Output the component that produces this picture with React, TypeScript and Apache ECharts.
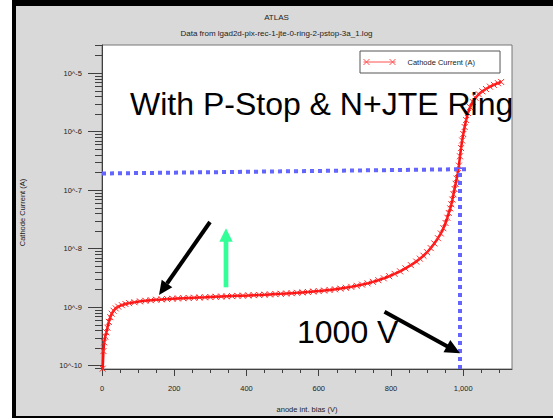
import React, { useEffect, useRef } from "react";
import * as echarts from "echarts";

const FONT = '"Liberation Sans", Arial, sans-serif';

// anode bias (V)
const biasV = [
  0, 2, 4, 6, 9, 12, 15, 19, 23, 27, 32, 38, 45, 55, 65, 75, 90, 105, 120, 135,
  150, 165, 180, 195, 210, 225, 240, 255, 270, 285, 300, 315, 330, 345, 360, 375,
  390, 405, 420, 435, 450, 465, 480, 495, 510, 525, 540, 555, 570, 585, 600, 615,
  630, 645, 660, 675, 690, 705, 720, 735, 750, 765, 780, 795, 810, 825, 840, 855,
  870, 880, 890, 900, 910, 920, 930, 938, 945, 951, 956, 960, 964, 967, 970, 973,
  976, 979, 982, 985, 988, 991, 994, 997, 1000, 1004, 1008, 1013, 1019, 1026,
  1034, 1043, 1053, 1063, 1074, 1085, 1096, 1105,
];

// cathode current (A)
const cathodeCurrentA = [
  2.51e-11, 8.91e-11, 1.78e-10, 2.51e-10, 3.16e-10, 3.72e-10, 4.47e-10, 5.62e-10,
  6.76e-10, 7.76e-10, 8.71e-10, 9.55e-10, 1.023e-9, 1.084e-9, 1.135e-9, 1.175e-9,
  1.216e-9, 1.259e-9, 1.288e-9, 1.318e-9, 1.343e-9, 1.361e-9, 1.38e-9, 1.396e-9,
  1.413e-9, 1.426e-9, 1.439e-9, 1.452e-9, 1.466e-9, 1.479e-9, 1.493e-9, 1.507e-9,
  1.521e-9, 1.535e-9, 1.549e-9, 1.563e-9, 1.578e-9, 1.592e-9, 1.607e-9, 1.622e-9,
  1.637e-9, 1.656e-9, 1.675e-9, 1.694e-9, 1.714e-9, 1.738e-9, 1.762e-9, 1.791e-9,
  1.82e-9, 1.854e-9, 1.888e-9, 1.928e-9, 1.972e-9, 2.023e-9, 2.08e-9, 2.148e-9,
  2.228e-9, 2.323e-9, 2.432e-9, 2.559e-9, 2.716e-9, 2.897e-9, 3.119e-9, 3.388e-9,
  3.715e-9, 4.111e-9, 4.613e-9, 5.248e-9, 6.026e-9, 6.761e-9, 7.586e-9, 8.71e-9,
  1.023e-8, 1.23e-8, 1.514e-8, 1.82e-8, 2.239e-8, 2.754e-8, 3.388e-8, 4.074e-8,
  4.898e-8, 5.754e-8, 6.918e-8, 8.511e-8, 1.047e-7, 1.288e-7, 1.585e-7, 1.95e-7,
  2.63e-7, 3.802e-7, 5.248e-7, 7.079e-7, 9.12e-7, 1.202e-6, 1.585e-6, 2.089e-6,
  2.63e-6, 3.236e-6, 3.802e-6, 4.365e-6, 4.898e-6, 5.37e-6, 5.888e-6, 6.31e-6,
  6.761e-6, 7.079e-6,
];

const xTickLabels = [0, 200, 400, 600, 800, 1000];
const xMinorTicks = [
  0, 50, 100, 150, 200, 250, 300, 350, 400, 450, 500, 550, 600, 650, 700, 750, 800,
  850, 900, 950, 1000, 1050, 1100,
];
const yDecades = [-10, -9, -8, -7, -6, -5];
const xRange = [0, 1135];
const yRangeLog = [-10.056, -4.518];

// blue guide lines: breakdown at ~990 V
const guideV = 989;
const guideHStartI = 1.93e-7;
const guideHEndI = 2.29e-7;
const guideHEndV = 1013;
const guideVTopI = 2.44e-7;

const seriesName = "Cathode Current (A)";

export default function App() {
  const ref = useRef<HTMLDivElement>(null);

  useEffect(() => {
    document.body.style.margin = "0";
    if (!ref.current) return;
    const chart = echarts.init(ref.current, undefined, { renderer: "svg" });

    const yMinor: number[] = [];
    for (let n = -11; n <= -5; n++) {
      for (let k = 2; k <= 9; k++) {
        const v = n + Math.log10(k);
        if (v >= yRangeLog[0] && v <= yRangeLog[1]) yMinor.push(v);
      }
    }

    const data = biasV.map((v, i) => [v, Math.log10(cathodeCurrentA[i])]);
    const axisColor = "#404040";

    const option: any = {
      animation: false,
      backgroundColor: "transparent",
      title: {
        text: "ATLAS",
        subtext: "Data from lgad2d-pix-rec-1-jte-0-ring-2-pstop-3a_1.log",
        left: "center",
        top: 8,
        padding: [5, 10, 5, 5],
        itemGap: 8,
        textStyle: { fontSize: 8, fontWeight: "normal", color: "#222", fontFamily: FONT },
        subtextStyle: { fontSize: 8, color: "#222", fontFamily: FONT },
      },
      legend: {
        data: [seriesName],
        left: 360,
        top: 51,
        padding: [7, 25, 7, 3],
        backgroundColor: "#fff",
        borderColor: "#555",
        borderWidth: 1,
        borderRadius: 0,
        itemWidth: 32,
        itemHeight: 7,
        icon: "path://M0,3.5L32,3.5M0,0.5L6,6.5M0,6.5L6,0.5M26,0.5L32,6.5M26,6.5L32,0.5",
        itemStyle: { color: "rgba(0,0,0,0)", borderColor: "#ff5050", borderWidth: 1 },
        textStyle: { fontSize: 7.5, color: "#222", fontFamily: FONT, padding: [0, 0, 0, 7] },
      },
      grid: {
        left: 102,
        top: 45,
        right: 41,
        bottom: 48,
        show: true,
        backgroundColor: "#ffffff",
        borderColor: "#777",
        borderWidth: 1,
      },
      xAxis: [
        {
          type: "value",
          min: xRange[0],
          max: xRange[1],
          position: "bottom",
          axisLine: { show: true, lineStyle: { color: axisColor } },
          axisTick: { show: true, length: 7, customValues: xTickLabels, lineStyle: { color: axisColor } },
          axisLabel: { customValues: xTickLabels, margin: 15, fontSize: 7.5, color: "#222", fontFamily: FONT },
          splitLine: { show: false },
          name: "anode int. bias (V)",
          nameLocation: "middle",
          nameGap: 36,
          nameTextStyle: { fontSize: 7.5, color: "#222", fontFamily: FONT },
        },
        {
          type: "value",
          min: xRange[0],
          max: xRange[1],
          position: "bottom",
          axisLine: { show: false },
          axisTick: { show: true, length: 4, customValues: xMinorTicks, lineStyle: { color: axisColor } },
          axisLabel: { show: false },
          splitLine: { show: false },
        },
      ],
      yAxis: [
        {
          type: "value",
          min: yRangeLog[0],
          max: yRangeLog[1],
          position: "left",
          axisLine: { show: true, lineStyle: { color: axisColor } },
          axisTick: { show: true, length: 14, customValues: yDecades, lineStyle: { color: axisColor } },
          axisLabel: {
            customValues: yDecades,
            margin: 20,
            fontSize: 7.5,
            color: "#222",
            fontFamily: FONT,
            formatter: (v: number) => "10^" + Math.round(v),
          },
          splitLine: { show: false },
          name: "Cathode Current (A)",
          nameLocation: "middle",
          nameRotate: 90,
          nameGap: 76,
          nameTextStyle: { fontSize: 7.5, color: "#222", fontFamily: FONT, padding: [0, 11, 0, 0] },
        },
        {
          type: "value",
          min: yRangeLog[0],
          max: yRangeLog[1],
          position: "left",
          axisLine: { show: false },
          axisTick: { show: true, length: 7, customValues: yMinor, lineStyle: { color: axisColor } },
          axisLabel: { show: false },
          splitLine: { show: false },
        },
      ],
      series: [
        {
          name: seriesName,
          type: "line",
          xAxisIndex: 0,
          yAxisIndex: 0,
          data,
          symbol: "path://M0,0L10,10M10,0L0,10",
          symbolSize: 6,
          showSymbol: true,
          lineStyle: { color: "#ff1010", width: 2.5 },
          itemStyle: { color: "rgba(255,0,0,0)", borderColor: "#ff2a2a", borderWidth: 1 },
          clip: true,
          z: 3,
          markLine: {
            silent: true,
            symbol: ["none", "none"],
            label: { show: false },
            lineStyle: { color: "#6464ff", width: 4, type: [4, 4], cap: "butt" },
            data: [
              [
                { coord: [0, Math.log10(guideHStartI)] },
                { coord: [guideHEndV, Math.log10(guideHEndI)] },
              ],
              [
                { coord: [guideV, yRangeLog[0]] },
                { coord: [guideV, Math.log10(guideVTopI)] },
              ],
            ],
          },
        },
      ],
      graphic: [
        {
          type: "text",
          x: 130,
          y: 104,
          z: 100,
          style: {
            text: "With P-Stop & N+JTE Ring",
            font: "32px " + FONT,
            fill: "#000",
            verticalAlign: "middle",
          },
        },
        {
          type: "text",
          x: 297,
          y: 332,
          z: 100,
          style: { text: "1000 V", font: "32px " + FONT, fill: "#000", verticalAlign: "middle" },
        },
        // black arrow 1
        {
          type: "line",
          z: 100,
          shape: { x1: 210, y1: 222, x2: 167, y2: 283.5 },
          style: { stroke: "#000", lineWidth: 4 },
        },
        {
          type: "polygon",
          z: 100,
          shape: { points: [[159, 295], [172.3, 287.2], [161.7, 279.8]] },
          style: { fill: "#000" },
        },
        // green arrow
        {
          type: "line",
          z: 100,
          shape: { x1: 226, y1: 287.3, x2: 226, y2: 240 },
          style: { stroke: "#33ff99", lineWidth: 4.7 },
        },
        {
          type: "polygon",
          z: 100,
          shape: { points: [[226, 228.3], [219.3, 241.7], [232.7, 241.7]] },
          style: { fill: "#33ff99" },
        },
        // black arrow 2
        {
          type: "line",
          z: 100,
          shape: { x1: 384.5, y1: 311.7, x2: 447.5, y2: 346.5 },
          style: { stroke: "#000", lineWidth: 4 },
        },
        {
          type: "polygon",
          z: 100,
          shape: { points: [[460, 353.3], [443.5, 352.3], [450.3, 339.9]] },
          style: { fill: "#000" },
        },
      ],
    };

    chart.setOption(option);
    return () => chart.dispose();
  }, []);

  return (
    <div style={{ position: "relative", width: 553, height: 418, background: "#fff", overflow: "hidden" }}>
      <div style={{ position: "absolute", left: 12, top: 0, width: 541, height: 418, background: "#000" }} />
      <div style={{ position: "absolute", left: 16, top: 6, width: 537, height: 410, background: "#d9d9d9" }} />
      <div ref={ref} style={{ position: "absolute", left: 0, top: 0, width: 553, height: 418 }} />
    </div>
  );
}
